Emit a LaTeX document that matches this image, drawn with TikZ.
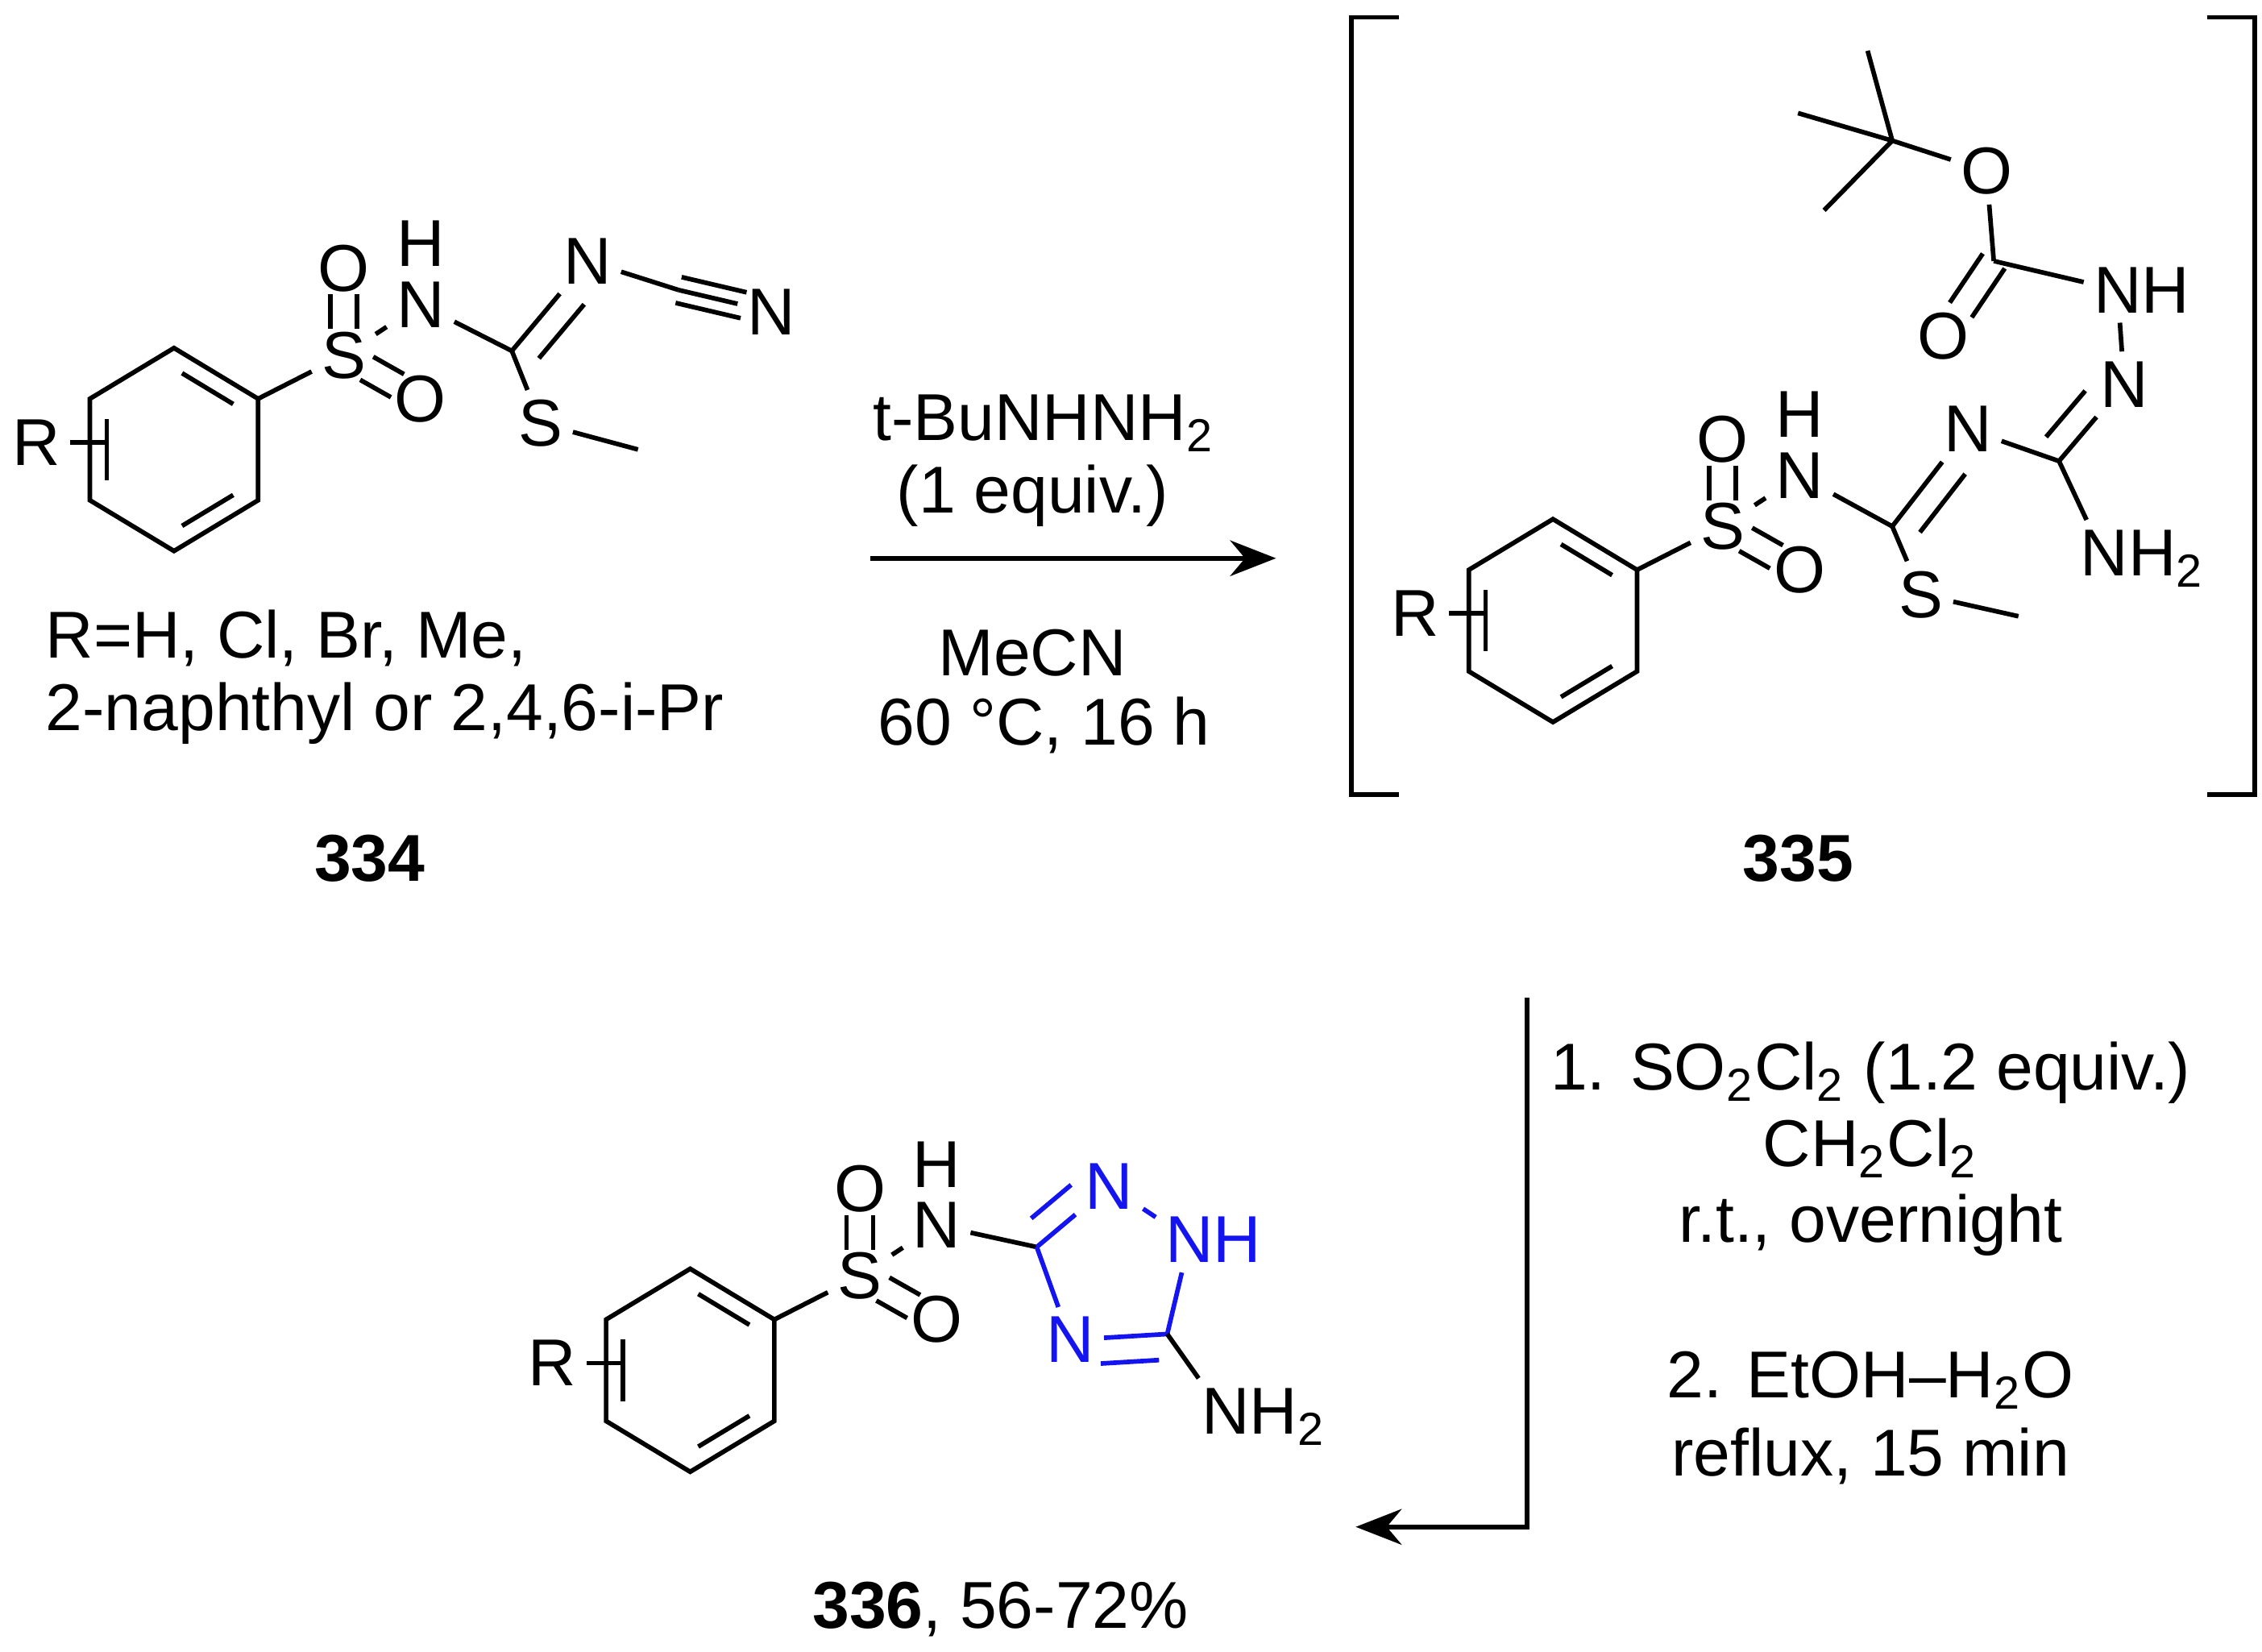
\documentclass[tikz,border=0pt]{standalone}
\usepackage{fontspec}
\setmainfont{Liberation Sans}
\usetikzlibrary{calc,arrows.meta}
\begin{document}
\begin{tikzpicture}[x=0.01cm,y=-0.01cm,line width=0.9pt,
  every node/.style={font=\fontsize{13}{15}\selectfont},
  atom/.style={inner sep=1.5pt},
  txt/.style={align=center,inner sep=0pt},
  blue/.style={color={rgb,255:red,20;green,20;blue,240}}]
\useasboundingbox (0,0) rectangle (1560,1139);
% centred double bond between a,b; trims from a and from b
\newcommand\dbl[4]{%
  \draw ($($(#1)!#3!(#2)$)!2.6pt!90:(#2)$) -- ($($(#2)!#4!(#1)$)!2.6pt!-90:(#1)$);
  \draw ($($(#1)!#3!(#2)$)!2.6pt!-90:(#2)$) -- ($($(#2)!#4!(#1)$)!2.6pt!90:(#1)$);}
\newcommand\aryl[1]{%
  \coordinate (#1c) at (0,0);
  \coordinate (#1v1) at (0,-70); \coordinate (#1v2) at (58,-35);
  \coordinate (#1v3) at (58,35); \coordinate (#1v4) at (0,70);
  \coordinate (#1v5) at (-58,35); \coordinate (#1v6) at (-58,-35);
  \draw (#1v1)--(#1v2)--(#1v3)--(#1v4)--(#1v5)--(#1v6)--cycle;
  \foreach \a/\b in {1/2,3/4,5/6}{
    \draw ($(#1c)!0.8!($(#1v\a)!0.12!(#1v\b)$)$) -- ($(#1c)!0.8!($(#1v\a)!0.88!(#1v\b)$)$);}
  \node[atom] (#1R) at (-95,-5) {R};
  \coordinate (#1Rb) at (-48,-5);
  \draw (#1R) -- (#1Rb);
  \node[atom] (#1S) at (117,-65) {S};
  \node[atom] (#1O1) at (117,-125) {O};
  \node[atom] (#1O2) at (170,-35) {O};
  \node[atom] (#1N) at (170,-100) {N};
  \node[atom] (#1H) at (170,-142) {H};
  \draw (#1v2) -- (#1S);
  \dbl{#1S}{#1O1}{0.3}{0.3}
  \dbl{#1S}{#1O2}{0.3}{0.3}
  \draw (#1S) -- (#1N);
}
% ---- 334
\begin{scope}[shift={(120,310)}]
\aryl{a}
\end{scope}
\coordinate (aC) at (353,242);
\node[atom] (aN2) at (405,180) {N};
\coordinate (aC2) at (468,200);
\node[atom] (aN3) at (532,215) {N};
\node[atom] (aS2) at (373,292) {S};
\coordinate (aMe) at (440,310);
\draw (aN) -- (aC);
\draw (aC) -- (aN2);
\draw ($($(aC)!0.1!(aN2)$)!5pt!-90:(aN2)$) -- ($($(aN2)!0.3!(aC)$)!5pt!90:(aC)$);
\draw (aN2) -- (aC2);
\draw (aC2) -- (aN3);
\dbl{aC2}{aN3}{0.0}{0.3}
\draw (aC) -- (aS2) -- (aMe);
\node[txt,anchor=west] (t1) at (30,440) {R=H, Cl, Br, Me,};
\node[txt,anchor=west] (t2) at (30,492) {2-naphthyl or 2,4,6-i-Pr};
\node[txt,font=\fontsize{13}{15}\selectfont\bfseries] (l334) at (255,592) {334};
% ---- arrow 1
\coordinate (ar1a) at (600,385); \coordinate (ar1b) at (880,385);
\draw[-{Stealth[length=9pt,width=7pt]}] (ar1a) -- (ar1b);
\node[txt] (r1) at (720,292) {t-BuNHNH\textsubscript{2}};
\node[txt] (r2) at (712,342) {(1 equiv.)};
\node[txt] (r3) at (712,450) {MeCN};
\node[txt] (r4) at (720,500) {60 °C, 16 h};
% ---- 335
\begin{scope}[shift={(1071,428)}]
\aryl{b}
\end{scope}
\coordinate (bC) at (1305,363);
\node[atom] (bNa) at (1357,296) {N};
\coordinate (bC2) at (1420,318);
\node[atom,anchor=west] (bNH2) at (1428,385) {N\rlap{H\textsubscript{2}}};
\node[atom] (bNb) at (1465,265) {N};
\node[atom,anchor=west] (bNH) at (1437,200) {N\rlap{H}};
\coordinate (bC3) at (1375,180);
\node[atom] (bO3) at (1340,232) {O};
\node[atom] (bO4) at (1370,118) {O};
\coordinate (bq) at (1305,97);
\coordinate (bm1) at (1240,78); \coordinate (bm2) at (1288,35); \coordinate (bm3) at (1258,145);
\node[atom] (bS2) at (1325,410) {S};
\coordinate (bMe) at (1392,425);
\draw (bN) -- (bC);
\draw (bC) -- (bNa);
\draw ($($(bC)!0.1!(bNa)$)!5pt!-90:(bNa)$) -- ($($(bNa)!0.3!(bC)$)!5pt!90:(bC)$);
\draw (bNa) -- (bC2);
\draw (bC2) -- (bNH2);
\draw (bC2) -- (bNb);
\draw ($($(bC2)!0.1!(bNb)$)!5pt!90:(bNb)$) -- ($($(bNb)!0.3!(bC2)$)!5pt!-90:(bC2)$);
\draw (bNb) -- (bNH);
\draw (bNH) -- (bC3);
\dbl{bC3}{bO3}{0.0}{0.35}
\draw (bC3) -- (bO4);
\draw (bO4) -- (bq);
\draw (bq) -- (bm1); \draw (bq) -- (bm2); \draw (bq) -- (bm3);
\draw (bC) -- (bS2) -- (bMe);
% brackets
\coordinate (k1) at (965,12); \coordinate (k2) at (932,12); \coordinate (k3) at (932,548); \coordinate (k4) at (965,548);
\draw (k1) -- (k2) -- (k3) -- (k4);
\coordinate (k5) at (1522,12); \coordinate (k6) at (1555,12); \coordinate (k7) at (1555,548); \coordinate (k8) at (1522,548);
\draw (k5) -- (k6) -- (k7) -- (k8);
\node[txt,font=\fontsize{13}{15}\selectfont\bfseries] (l335) at (1240,592) {335};
% ---- arrow 2
\coordinate (ar2a) at (1053,688); \coordinate (ar2b) at (1053,1053); \coordinate (ar2c) at (935,1053);
\draw[-{Stealth[length=9pt,width=7pt]}] (ar2a) -- (ar2b) -- (ar2c);
\node[txt] (c1) at (1290,740) {1. SO\textsubscript{2}Cl\textsubscript{2} (1.2 equiv.)};
\node[txt] (c2) at (1290,792) {CH\textsubscript{2}Cl\textsubscript{2}};
\node[txt] (c3) at (1290,845) {r.t., overnight};
\node[txt] (c4) at (1290,952) {2. EtOH--H\textsubscript{2}O};
\node[txt] (c5) at (1290,1004) {reflux, 15 min};
% ---- 336
\begin{scope}[shift={(476,945)}]
\aryl{c}
\end{scope}
\coordinate (cC3) at (715,860);
\node[atom,blue] (cN2) at (765,818) {N};
\node[atom,blue,anchor=west] (cN1) at (797,855) {N\rlap{H}};
\coordinate (cC5) at (805,920);
\node[atom,blue] (cN4) at (738,924) {N};
\node[atom,anchor=west] (cNH2) at (822,977) {N\rlap{H\textsubscript{2}}};
\draw (cN) -- (cC3);
\begin{scope}[blue]
\draw (cC3) -- (cN2);
\draw ($($(cC3)!0.15!(cN2)$)!5pt!90:(cN2)$) -- ($($(cN2)!0.3!(cC3)$)!5pt!-90:(cC3)$);
\draw (cN2) -- (cN1);
\draw (cN1) -- (cC5);
\draw (cC5) -- (cN4);
\draw ($($(cC5)!0.1!(cN4)$)!5pt!90:(cN4)$) -- ($($(cN4)!0.3!(cC5)$)!5pt!-90:(cC5)$);
\draw (cN4) -- (cC3);
\end{scope}
\draw (cC5) -- (cNH2);
\node[txt] (l336) at (690,1110) {\textbf{336}, 56-72\%};
\end{tikzpicture}
\end{document}
